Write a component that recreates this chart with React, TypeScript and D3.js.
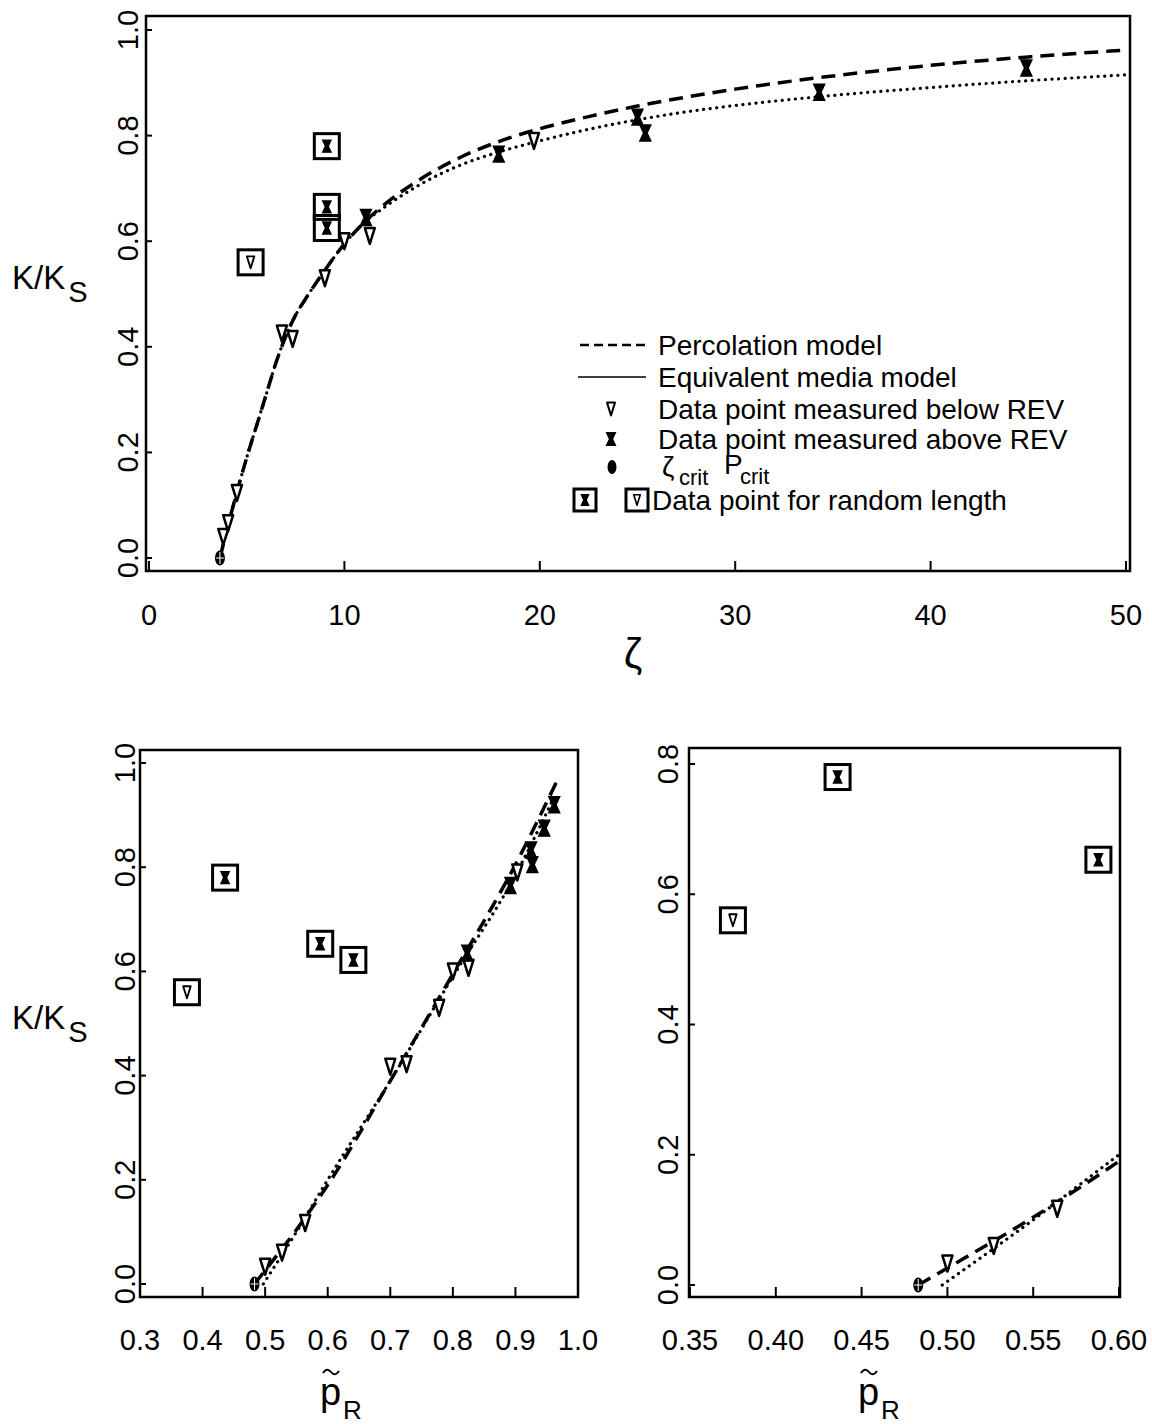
import React from "react";
import * as d3 from "d3";

// ---------- DATA ----------
// Top panel: K/Ks versus zeta
const topBelowREV: [number, number][] = [
  [3.8, 0.04], [4.05, 0.066], [4.5, 0.123], [6.8, 0.425], [7.35, 0.415],
  [9.0, 0.53], [10.0, 0.6], [11.3, 0.61], [19.7, 0.79],
];
const topAboveREV: [number, number][] = [
  [11.1, 0.645], [17.9, 0.765], [25.0, 0.835], [25.4, 0.805], [34.3, 0.882], [44.9, 0.928],
];
const topCrit: [number, number][] = [[3.63, 0]];
const topRandomBelow: [number, number][] = [[5.2, 0.56]];
const topRandomAbove: [number, number][] = [[9.1, 0.78], [9.1, 0.665], [9.1, 0.625]];
const topPercolation: [number, number][] = [
  [3.63, 0], [4.0, 0.055], [4.5, 0.125], [5.0, 0.19], [5.5, 0.25], [6.0, 0.31], [6.5, 0.37],
  [7.0, 0.42], [7.5, 0.46], [8.0, 0.49], [9.0, 0.545], [10.0, 0.595], [11.0, 0.635],
  [12.0, 0.668], [14.0, 0.72], [16.0, 0.76], [18.0, 0.79], [20.0, 0.813], [22.5, 0.836],
  [25.0, 0.856], [27.5, 0.873], [30.0, 0.888], [35.0, 0.913], [40.0, 0.933], [45.0, 0.949], [50.0, 0.962],
];
const topEquivalent: [number, number][] = [
  [3.63, 0], [4.0, 0.055], [4.5, 0.125], [5.0, 0.19], [5.5, 0.25], [6.0, 0.31], [6.5, 0.37],
  [7.0, 0.42], [7.5, 0.46], [8.0, 0.49], [9.0, 0.545], [10.0, 0.595], [11.0, 0.635],
  [12.0, 0.663], [14.0, 0.71], [16.0, 0.745], [18.0, 0.77], [20.0, 0.79], [22.5, 0.812],
  [25.0, 0.83], [27.5, 0.845], [30.0, 0.857], [35.0, 0.876], [40.0, 0.891], [45.0, 0.904], [50.0, 0.915],
];
const zetaTicks = [0, 10, 20, 30, 40, 50];
const kTicks = [0, 0.2, 0.4, 0.6, 0.8, 1.0];

// Bottom panels: K/Ks versus p~R
const pBelowREV: [number, number][] = [
  [0.5, 0.033], [0.527, 0.06], [0.564, 0.117], [0.7, 0.417], [0.726, 0.422],
  [0.778, 0.53], [0.8, 0.6], [0.825, 0.607], [0.903, 0.79],
];
const pAboveREV: [number, number][] = [
  [0.823, 0.635], [0.892, 0.765], [0.925, 0.833], [0.927, 0.805], [0.946, 0.875], [0.962, 0.92],
];
const pCrit: [number, number][] = [[0.483, 0]];
const pRandomBelow: [number, number][] = [[0.375, 0.56]];
const pRandomAbove: [number, number][] = [[0.436, 0.78], [0.588, 0.653], [0.641, 0.622]];
const pPercolation: [number, number][] = [
  [0.483, 0], [0.5, 0.026], [0.55, 0.104], [0.6, 0.19], [0.7, 0.39], [0.8, 0.595], [0.9, 0.805], [0.967, 0.967],
];
const pEquivalent: [number, number][] = [
  [0.497, 0], [0.55, 0.1], [0.6, 0.2], [0.7, 0.39], [0.8, 0.59], [0.9, 0.785], [0.958, 0.925],
];
const pTicksLeft = [0.3, 0.4, 0.5, 0.6, 0.7, 0.8, 0.9, 1.0];
const pTicksRight = [0.35, 0.4, 0.45, 0.5, 0.55, 0.6];
const kTicksRight = [0, 0.2, 0.4, 0.6, 0.8];

const legendLabels = [
  "Percolation model",
  "Equivalent media model",
  "Data point measured below REV",
  "Data point measured above REV",
  "Data point for random length",
];

const FONT = "'Liberation Sans', Arial, Helvetica, sans-serif";

// ---------- MARKERS ----------
const TriDown = ({ x, y, s = 1 }: { x: number; y: number; s?: number }) => (
  <path
    d={`M${x - 5 * s},${y - 8 * s}L${x + 5 * s},${y - 8 * s}L${x},${y + 8 * s}Z`}
    fill="white"
    stroke="black"
    strokeWidth={2.5 * s}
    strokeLinejoin="round"
  />
);
const Hourglass = ({ x, y, s = 1 }: { x: number; y: number; s?: number }) => (
  <path
    d={`M${x - 5.5 * s},${y - 8 * s}L${x + 5.5 * s},${y - 8 * s}L${x + 1.8 * s},${y}L${x + 5.5 * s},${y + 8 * s}L${x - 5.5 * s},${y + 8 * s}L${x - 1.8 * s},${y}Z`}
    fill="black"
    stroke="black"
    strokeWidth={1.4}
  />
);
const Crit = ({ x, y }: { x: number; y: number }) => (
  <g>
    <ellipse cx={x} cy={y} rx={5} ry={7.5} fill="black" />
    <line x1={x - 4} x2={x + 4} y1={y} y2={y} stroke="white" strokeWidth={1} />
    <line x1={x} x2={x} y1={y - 6} y2={y + 6} stroke="white" strokeWidth={1} />
  </g>
);
const Box = ({ x, y, size = 25 }: { x: number; y: number; size?: number }) => (
  <rect x={x - size / 2} y={y - size / 2} width={size} height={size} fill="none" stroke="black" strokeWidth={3} />
);

type Sc = d3.ScaleLinear<number, number>;

const YTickLabels = ({ ticks, y, bx, fmt }: { ticks: number[]; y: Sc; bx: number; fmt: (v: number) => string }) => (
  <g>
    {ticks.map((t) => (
      <text
        key={t}
        transform={`translate(${bx},${y(t)}) rotate(-90)`}
        textAnchor="middle"
        fontSize={29}
        fontFamily={FONT}
      >
        {fmt(t)}
      </text>
    ))}
  </g>
);

const XTickLabels = ({ ticks, x, by, fmt }: { ticks: number[]; x: Sc; by: number; fmt: (v: number) => string }) => (
  <g>
    {ticks.map((t) => (
      <text key={t} x={x(t)} y={by} textAnchor="middle" fontSize={29} fontFamily={FONT}>
        {fmt(t)}
      </text>
    ))}
  </g>
);

const Ticks = ({
  xt, yt, x, y, bottom, left, len = 9,
}: { xt: number[]; yt: number[]; x: Sc; y: Sc; bottom: number; left: number; len?: number }) => (
  <g stroke="black" strokeWidth={2}>
    {xt.map((t) => (
      <line key={"x" + t} x1={x(t)} x2={x(t)} y1={bottom} y2={bottom - len} />
    ))}
    {yt.map((t) => (
      <line key={"y" + t} x1={left} x2={left + 6} y1={y(t)} y2={y(t)} />
    ))}
  </g>
);

const Marks = ({
  x, y, below, above, crit, rBelow, rAbove, inDomain,
}: {
  x: Sc; y: Sc; below: [number, number][]; above: [number, number][]; crit: [number, number][];
  rBelow: [number, number][]; rAbove: [number, number][]; inDomain: (p: [number, number]) => boolean;
}) => (
  <g>
    {rBelow.filter(inDomain).map((d, i) => (
      <g key={"rb" + i}>
        <Box x={x(d[0])} y={y(d[1])} />
        <TriDown x={x(d[0])} y={y(d[1])} s={0.75} />
      </g>
    ))}
    {rAbove.filter(inDomain).map((d, i) => (
      <g key={"ra" + i}>
        <Box x={x(d[0])} y={y(d[1])} />
        <Hourglass x={x(d[0])} y={y(d[1])} s={0.75} />
      </g>
    ))}
    {below.filter(inDomain).map((d, i) => (
      <TriDown key={"b" + i} x={x(d[0])} y={y(d[1])} />
    ))}
    {above.filter(inDomain).map((d, i) => (
      <Hourglass key={"a" + i} x={x(d[0])} y={y(d[1])} />
    ))}
    {crit.filter(inDomain).map((d, i) => (
      <Crit key={"c" + i} x={x(d[0])} y={y(d[1])} />
    ))}
  </g>
);

const KLabel = ({ x, y }: { x: number; y: number }) => (
  <text x={x} y={y} fontSize={33} fontFamily={FONT}>
    K/K
    <tspan fontSize={29} dy={13} dx={3}>S</tspan>
  </text>
);

const PLabel = ({ x, y }: { x: number; y: number }) => (
  <g fontFamily={FONT}>
    <text x={x} y={y} fontSize={38}>p</text>
    <path
      d={`M${x + 3},${y - 32} q4,-6 8,-1 t8,-1`}
      fill="none"
      stroke="black"
      strokeWidth={2}
    />
    <text x={x + 23} y={y + 14} fontSize={26}>R</text>
  </g>
);

export default function App() {
  // top panel
  const tx = d3.scaleLinear().domain([0, 50]).range([149, 1126]);
  const ty = d3.scaleLinear().domain([0, 1]).range([558, 30]);
  // bottom-left
  const lx = d3.scaleLinear().domain([0.3, 1.0]).range([140, 578]);
  const ly = d3.scaleLinear().domain([0, 1]).range([1284, 763]);
  // bottom-right
  const rx = d3.scaleLinear().domain([0.35, 0.6]).range([690, 1119]);
  const ry = d3.scaleLinear().domain([0, 0.8]).range([1285, 764]);

  const lineT = d3.line<[number, number]>().x((d) => tx(d[0])).y((d) => ty(d[1])).curve(d3.curveMonotoneX);
  const lineL = d3.line<[number, number]>().x((d) => lx(d[0])).y((d) => ly(d[1])).curve(d3.curveMonotoneX);
  const lineR = d3.line<[number, number]>().x((d) => rx(d[0])).y((d) => ry(d[1])).curve(d3.curveMonotoneX);

  const dashed = { fill: "none", stroke: "black", strokeWidth: 3.5, strokeDasharray: "14 8" };
  const dotted = { fill: "none", stroke: "black", strokeWidth: 3.2, strokeDasharray: "0.1 6.5", strokeLinecap: "round" as const };

  const f1 = d3.format(".1f");
  const f2 = d3.format(".2f");
  const f0 = d3.format("d");

  const legX = 658;
  const legRows = [355, 387, 419, 449, 476, 510];

  return (
    <div style={{ position: "absolute", left: 0, top: 0 }}>
      <svg width={1152} height={1424} viewBox="0 0 1152 1424" style={{ display: "block", background: "white" }}>
        <defs>
          <clipPath id="clipT"><rect x={146} y={16} width={984} height={555} /></clipPath>
          <clipPath id="clipL"><rect x={140} y={750} width={438} height={547} /></clipPath>
          <clipPath id="clipR"><rect x={689} y={748} width={431} height={549} /></clipPath>
        </defs>

        {/* ---------- TOP PANEL ---------- */}
        <rect x={146} y={16} width={984} height={555} fill="none" stroke="black" strokeWidth={2.5} />
        <Ticks xt={zetaTicks} yt={kTicks} x={tx} y={ty} bottom={571} left={146} len={10} />
        <g clipPath="url(#clipT)">
          <path d={lineT(topPercolation) || ""} {...dashed} />
          <path d={lineT(topEquivalent) || ""} {...dotted} />
        </g>
        <Marks x={tx} y={ty} below={topBelowREV} above={topAboveREV} crit={topCrit}
          rBelow={topRandomBelow} rAbove={topRandomAbove} inDomain={() => true} />
        <YTickLabels ticks={kTicks} y={ty} bx={138} fmt={f1} />
        <XTickLabels ticks={zetaTicks} x={tx} by={625} fmt={f0} />
        <text x={633} y={668} fontSize={42} fontFamily={FONT} textAnchor="middle">ζ</text>
        <KLabel x={12} y={289} />

        {/* legend */}
        <line x1={580} x2={646} y1={345} y2={345} stroke="black" strokeWidth={2.5} strokeDasharray="9 5" />
        <line x1={578} x2={646} y1={377} y2={377} stroke="black" strokeWidth={1.6} />
        <TriDown x={611} y={409} s={0.8} />
        <Hourglass x={611} y={439} s={0.8} />
        <ellipse cx={612} cy={467} rx={4.5} ry={7} fill="black" />
        <Box x={585} y={500} size={22} />
        <Hourglass x={585} y={500} s={0.65} />
        <Box x={637} y={500} size={22} />
        <TriDown x={637} y={500} s={0.65} />
        <g fontFamily={FONT} fontSize={28}>
          <text x={legX} y={legRows[0]}>{legendLabels[0]}</text>
          <text x={legX} y={legRows[1]}>{legendLabels[1]}</text>
          <text x={legX} y={legRows[2]}>{legendLabels[2]}</text>
          <text x={legX} y={legRows[3]}>{legendLabels[3]}</text>
          <text x={662} y={legRows[4]}>ζ</text>
          <text x={679} y={legRows[4] + 9} fontSize={22}>crit</text>
          <text x={724} y={legRows[4] - 2}>P</text>
          <text x={740} y={legRows[4] + 8} fontSize={22}>crit</text>
          <text x={652} y={legRows[5]}>{legendLabels[4]}</text>
        </g>

        {/* ---------- BOTTOM LEFT ---------- */}
        <rect x={140} y={750} width={438} height={547} fill="none" stroke="black" strokeWidth={2.5} />
        <Ticks xt={pTicksLeft} yt={kTicks} x={lx} y={ly} bottom={1297} left={140} len={10} />
        <g clipPath="url(#clipL)">
          <path d={lineL(pPercolation) || ""} {...dashed} />
          <path d={lineL(pEquivalent) || ""} {...dotted} />
        </g>
        <Marks x={lx} y={ly} below={pBelowREV} above={pAboveREV} crit={pCrit}
          rBelow={pRandomBelow} rAbove={pRandomAbove} inDomain={(d) => d[0] >= 0.3 && d[0] <= 1.0} />
        <YTickLabels ticks={kTicks} y={ly} bx={135} fmt={f1} />
        <XTickLabels ticks={pTicksLeft} x={lx} by={1350} fmt={f1} />
        <KLabel x={12} y={1029} />
        <PLabel x={320} y={1405} />

        {/* ---------- BOTTOM RIGHT ---------- */}
        <rect x={689} y={748} width={431} height={549} fill="none" stroke="black" strokeWidth={2.5} />
        <Ticks xt={pTicksRight} yt={kTicksRight} x={rx} y={ry} bottom={1297} left={689} len={10} />
        <g clipPath="url(#clipR)">
          <path d={lineR(pPercolation) || ""} {...dashed} />
          <path d={lineR(pEquivalent) || ""} {...dotted} />
        </g>
        <Marks x={rx} y={ry} below={pBelowREV} above={pAboveREV} crit={pCrit}
          rBelow={pRandomBelow} rAbove={pRandomAbove} inDomain={(d) => d[0] >= 0.35 && d[0] <= 0.6} />
        <YTickLabels ticks={kTicksRight} y={ry} bx={678} fmt={f1} />
        <XTickLabels ticks={pTicksRight} x={rx} by={1350} fmt={f2} />
        <PLabel x={858} y={1405} />
      </svg>
    </div>
  );
}
